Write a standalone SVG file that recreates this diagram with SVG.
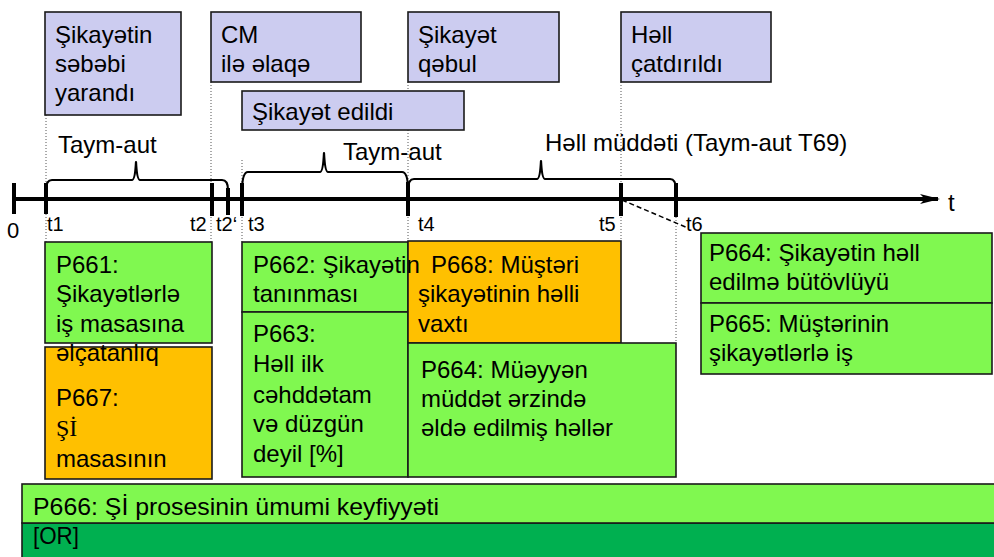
<svg xmlns="http://www.w3.org/2000/svg" width="994" height="557" viewBox="0 0 994 557">
  <style>
    text { font-family: "Liberation Sans", Arial, sans-serif; font-size: 24px; fill: #000; }
    .serif { font-family: "Liberation Serif", "Times New Roman", serif; }
    .tl { font-size: 20px; }
    .bar { font-size: 24px; }
    .ev { fill: #ccccf0; stroke: #1a1a1a; stroke-width: 1.6; }
    .ok { fill: #80f850; stroke: #1a1a1a; stroke-width: 1.6; }
    .warn { fill: #ffc000; stroke: #1a1a1a; stroke-width: 1.6; }
    .dark { fill: #00b050; stroke: #1a1a1a; stroke-width: 1.6; }
    .guide { stroke: #555; stroke-width: 1; stroke-dasharray: 1 2; fill: none; }
    .axis { stroke: #000; stroke-width: 4; fill: none; }
    .tick { stroke: #000; stroke-width: 4; fill: none; }
    .brace { stroke: #000; stroke-width: 2.2; fill: none; stroke-linejoin: round; }
  </style>
  <defs>
    <marker id="axisHead" viewBox="0 0 20 10" refX="18" refY="5" markerWidth="20" markerHeight="10" markerUnits="userSpaceOnUse" orient="auto">
      <path d="M0,0 L20,5 L0,10 L5,5 Z" fill="#000"/>
    </marker>
  </defs>

  <!-- dotted guide lines dropped from each event -->
  <g id="guides">
    <line class="guide" x1="46" y1="115" x2="46" y2="242"/>
    <line class="guide" x1="211" y1="82" x2="211" y2="242"/>
    <line class="guide" x1="242" y1="160" x2="242" y2="242"/>
    <line class="guide" x1="408" y1="82" x2="408" y2="241"/>
    <line class="guide" x1="621" y1="82" x2="621" y2="241"/>
    <line class="guide" x1="676" y1="214" x2="676" y2="343"/>
  </g>

  <!-- events -->
  <g id="ev-cause">
    <rect class="ev" x="45" y="12" width="136" height="103"/>
    <text x="55" y="43">Şikayətin</text>
    <text x="55" y="72">səbəbi</text>
    <text x="55" y="101">yarandı</text>
  </g>
  <g id="ev-contact">
    <rect class="ev" x="211" y="12" width="150" height="70"/>
    <text x="221" y="43">CM</text>
    <text x="221" y="72">ilə əlaqə</text>
  </g>
  <g id="ev-filed">
    <rect class="ev" x="242" y="91" width="222" height="39"/>
    <text x="252" y="120">Şikayət edildi</text>
  </g>
  <g id="ev-accepted">
    <rect class="ev" x="408" y="12" width="151" height="70"/>
    <text x="418" y="43">Şikayət</text>
    <text x="418" y="72">qəbul</text>
  </g>
  <g id="ev-delivered">
    <rect class="ev" x="621" y="12" width="150" height="70"/>
    <text x="631" y="43">Həll</text>
    <text x="631" y="72">çatdırıldı</text>
  </g>

  <!-- time axis -->
  <g id="axis">
    <line class="axis" x1="12" y1="199" x2="938" y2="199" marker-end="url(#axisHead)"/>
    <line class="tick" x1="14" y1="183" x2="14" y2="214"/>
    <line class="tick" x1="46" y1="183" x2="46" y2="214"/>
    <line class="tick" x1="212" y1="183" x2="212" y2="216"/>
    <line class="tick" x1="228" y1="188" x2="228" y2="215"/>
    <line class="tick" x1="242" y1="183" x2="242" y2="216"/>
    <line class="tick" x1="408" y1="182" x2="408" y2="216"/>
    <line class="tick" x1="621" y1="183" x2="621" y2="216"/>
    <line class="tick" x1="676" y1="183" x2="676" y2="217"/>
    <text x="7" y="238" style="font-size:22px">0</text>
    <text class="tl" x="47" y="231">t1</text>
    <text class="tl" x="190" y="231">t2</text>
    <text class="tl" x="216" y="231">t2‘</text>
    <text class="tl" x="248" y="231">t3</text>
    <text class="tl" x="418" y="231">t4</text>
    <text class="tl" x="599" y="231">t5</text>
    <text class="tl" x="686" y="231">t6</text>
    <text x="948" y="211">t</text>
  </g>

  <!-- interval braces and the t5 to t6 link -->
  <g id="connectors">
    <path class="brace" d="M46,190 Q46,180 52,180 L132,180 Q135,180 136,162 Q137,180 140,180 L222,180 Q228,180 228,190"/>
    <path class="brace" d="M242,192 Q242,172 248,172 L320,172 Q323,172 324,153 Q325,172 328,172 L402,172 Q408,172 408,190"/>
    <path class="brace" d="M408,190 Q408,179 414,179 L537,179 Q540,179 541,161 Q542,179 545,179 L670,179 Q676,179 676,190"/>
    <line x1="622" y1="200" x2="688" y2="228" stroke="#000" stroke-width="1.5" stroke-dasharray="5 3"/>
    <text x="58" y="153">Taym-aut</text>
    <text x="343" y="160">Taym-aut</text>
    <text x="545" y="151">Həll müddəti (Taym-aut T69)</text>
  </g>

  <!-- indicators -->
  <g id="p661">
    <rect class="ok" x="45" y="242" width="167" height="101"/>
    <text x="56" y="273">P661:</text>
    <text x="56" y="302">Şikayətlərlə</text>
    <text x="56" y="332">iş masasına</text>
  </g>
  <g id="p667">
    <rect class="warn" x="45" y="347" width="167" height="132"/>
    <text x="56" y="361">əlçatanlıq</text>
    <text x="56" y="406">P667:</text>
    <text class="serif" x="56" y="436">Şİ</text>
    <text x="56" y="467">masasının</text>
  </g>
  <g id="p662">
    <rect class="ok" x="242" y="242" width="166" height="70"/>
  </g>
  <g id="p663">
    <rect class="ok" x="242" y="312" width="166" height="165"/>
    <text x="253" y="342">P663:</text>
    <text x="253" y="372">Həll ilk</text>
    <text x="253" y="403">cəhddətam</text>
    <text x="253" y="432">və düzgün</text>
    <text x="253" y="462">deyil [%]</text>
  </g>
  <g id="p668">
    <rect class="warn" x="408" y="241" width="213" height="102"/>
    <text x="431" y="273">P668: Müştəri</text>
    <text x="418" y="302">şikayətinin həlli</text>
    <text x="418" y="332">vaxtı</text>
  </g>
  <g id="p662-label">
    <text x="253" y="273">P662: Şikayətin</text>
    <text x="253" y="302">tanınması</text>
  </g>
  <g id="p664-period">
    <rect class="ok" x="408" y="343" width="268" height="134"/>
    <text x="421" y="378">P664: Müəyyən</text>
    <text x="421" y="407">müddət ərzində</text>
    <text x="421" y="436">əldə edilmiş həllər</text>
  </g>
  <g id="p664-complete">
    <rect class="ok" x="701" y="233" width="291" height="70"/>
    <text x="709" y="261">P664: Şikayətin həll</text>
    <text x="709" y="290">edilmə bütövlüyü</text>
  </g>
  <g id="p665">
    <rect class="ok" x="701" y="303" width="291" height="71"/>
    <text x="709" y="332">P665: Müştərinin</text>
    <text x="709" y="361">şikayətlərlə iş</text>
  </g>
  <g id="p666">
    <rect class="dark" x="22" y="523" width="980" height="40"/>
    <rect class="ok" x="22" y="484" width="980" height="39"/>
    <text class="bar" x="33" y="515" textLength="406" lengthAdjust="spacingAndGlyphs">P666: Şİ prosesinin ümumi keyfiyyəti</text>
    <text class="bar" x="33" y="544" textLength="46" lengthAdjust="spacingAndGlyphs">[OR]</text>
  </g>
</svg>
